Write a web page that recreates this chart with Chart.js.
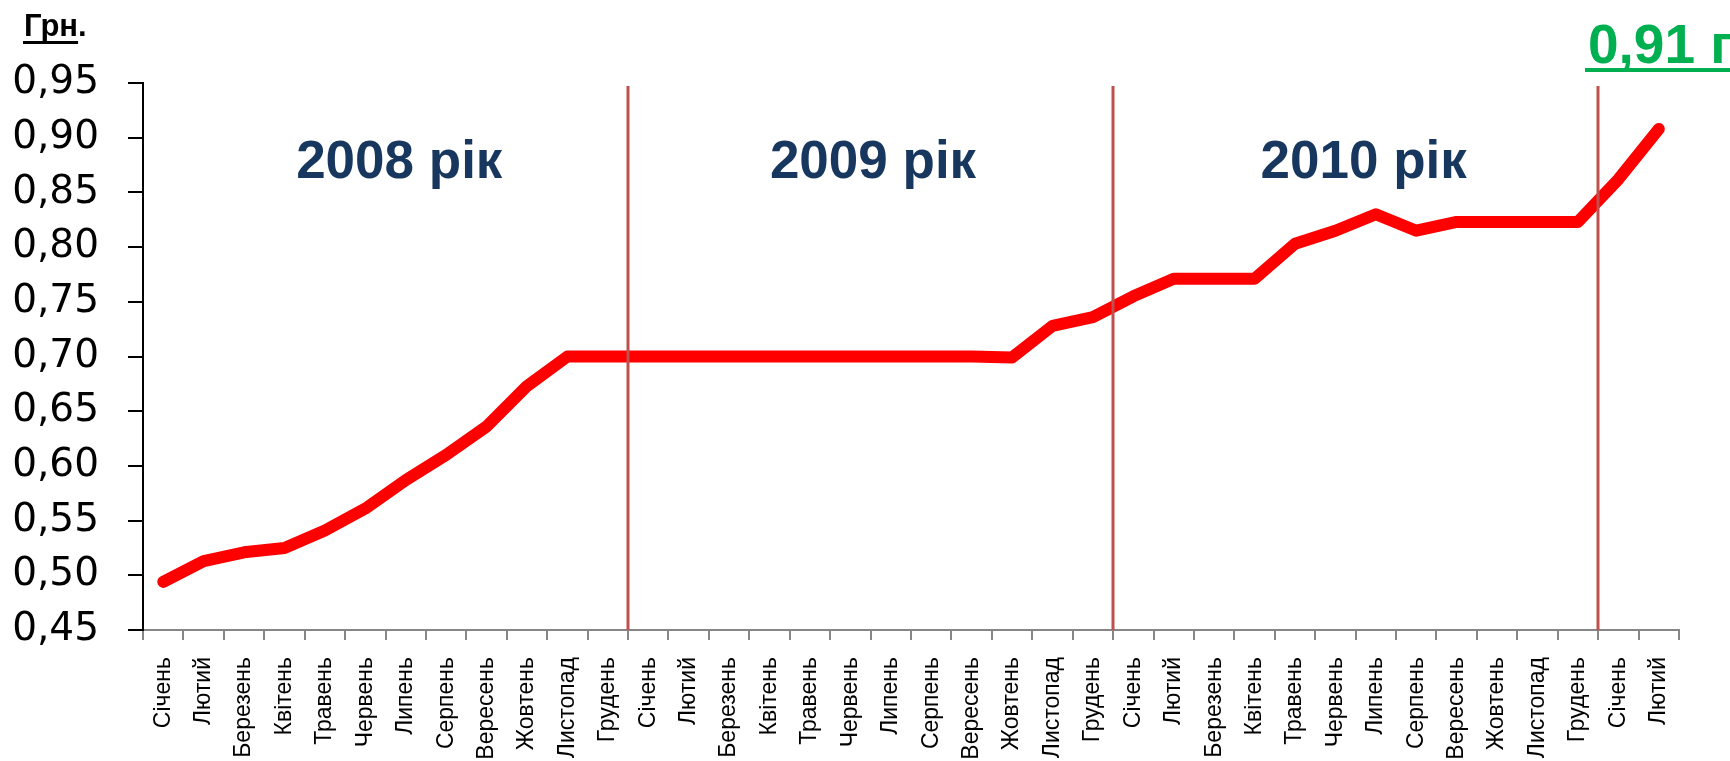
<!DOCTYPE html>
<html>
<head>
<meta charset="utf-8">
<script src="https://cdn.jsdelivr.net/npm/chart.js@4/dist/chart.umd.min.js"></script>
<style>
  html, body { margin: 0; padding: 0; background: #ffffff; }
  #wrap { width: 1730px; height: 761px; position: relative; overflow: hidden; }
</style>
</head>
<body>
<div id="wrap"><canvas id="c" width="1730" height="761"></canvas></div>
<script>
// ---- data ----
const months = ['Січень','Лютий','Березень','Квітень','Травень','Червень','Липень','Серпень','Вересень','Жовтень','Листопад','Грудень'];
const categories = [...months, ...months, ...months, 'Січень', 'Лютий'];

const values2008 = [0.494, 0.513, 0.521, 0.525, 0.541, 0.561, 0.587, 0.610, 0.636, 0.673, 0.700, 0.700];
const values2009 = [0.700, 0.700, 0.700, 0.700, 0.700, 0.700, 0.700, 0.700, 0.700, 0.699, 0.728, 0.736];
const values2010 = [0.755, 0.771, 0.771, 0.771, 0.803, 0.815, 0.830, 0.815, 0.823, 0.823, 0.823, 0.823];
const values2011 = [0.862, 0.908];
const priceValues = [...values2008, ...values2009, ...values2010, ...values2011];

const yearLabels = ['2008 рік', '2009 рік', '2010 рік'];
const yTickMin = 0.45, yTickMax = 0.95, yTickStep = 0.05;
const unitLabel = 'Грн.';
const lastValueLabel = '0,91 грн.';

// ---- overlay plugin: year separators, year titles, unit and last value ----
const overlay = {
  id: 'overlay',
  afterDatasetsDraw(chart) {
    const { ctx, chartArea, scales: { x } } = chart;
    ctx.save();
    const blocks = [values2008.length, values2009.length, values2010.length];
    let idx = -1;
    ctx.strokeStyle = '#c0504d';
    ctx.lineWidth = 3;
    blocks.forEach(len => {
      idx += len;
      const px = Math.round((x.getPixelForValue(idx) + x.getPixelForValue(idx + 1)) / 2);
      ctx.beginPath();
      ctx.moveTo(px, chartArea.top + 3);
      ctx.lineTo(px, chartArea.bottom);
      ctx.stroke();
    });
    ctx.restore();
  },
  afterDraw(chart) {
    const { ctx, scales: { x } } = chart;
    ctx.save();
    const anchors = [5.84, 17.56, 29.7];
    ctx.fillStyle = '#17375e';
    ctx.font = 'bold 53px "Liberation Sans", Arial, sans-serif';
    ctx.textAlign = 'center';
    ctx.textBaseline = 'alphabetic';
    yearLabels.forEach((t, i) => {
      ctx.fillText(t, x.getPixelForValue(anchors[i]), 178);
    });
    // unit label
    ctx.textAlign = 'left';
    ctx.fillStyle = '#000000';
    ctx.font = 'bold 31px "Liberation Sans", Arial, sans-serif';
    ctx.fillText(unitLabel, 24, 36);
    const wU = ctx.measureText(unitLabel.replace('.', '')).width;
    ctx.fillRect(23, 41, wU + 1, 3);
    // last value label
    ctx.fillStyle = '#00b050';
    ctx.font = 'bold 55px "Liberation Sans", Arial, sans-serif';
    ctx.fillText(lastValueLabel, 1588, 63);
    const wV = ctx.measureText(lastValueLabel).width;
    ctx.fillRect(1585, 68, wV + 4, 4);
    ctx.restore();
  }
};

new Chart(document.getElementById('c'), {
  type: 'line',
  data: {
    labels: categories,
    datasets: [{
      data: priceValues,
      borderColor: '#ff0000',
      backgroundColor: '#ff0000',
      borderWidth: 12,
      borderCapStyle: 'round',
      borderJoinStyle: 'round',
      pointRadius: 0,
      tension: 0,
      fill: false
    }]
  },
  options: {
    responsive: false,
    animation: false,
    devicePixelRatio: 1,
    layout: { padding: { top: 83, right: 51, bottom: 0, left: 0 } },
    plugins: { legend: { display: false }, tooltip: { enabled: false }, title: { display: false } },
    scales: {
      x: {
        type: 'category',
        offset: true,
        grid: { display: true, offset: true, drawOnChartArea: false, drawTicks: true, tickLength: 10, color: '#868686', lineWidth: 2 },
        border: { display: true, color: '#868686', width: 2 },
        ticks: {
          autoSkip: false, maxRotation: 90, minRotation: 90, padding: 17,
          color: '#000000',
          font: { family: '"Liberation Sans", Arial, sans-serif', size: 23 }
        },
        afterFit(scale) { scale.height = 131; }
      },
      y: {
        min: yTickMin, max: yTickMax,
        grid: { display: true, drawOnChartArea: false, drawTicks: true, tickLength: 15, color: '#000000', lineWidth: 2 },
        border: { display: true, color: '#000000', width: 2 },
        ticks: {
          stepSize: yTickStep, padding: 29, color: '#000000',
          font: { family: '"DejaVu Sans", sans-serif', size: 39 },
          callback: v => Number(v).toFixed(2).replace('.', ',')
        },
        afterFit(scale) { scale.width = 143; }
      }
    }
  },
  plugins: [overlay]
});
</script>
</body>
</html>
